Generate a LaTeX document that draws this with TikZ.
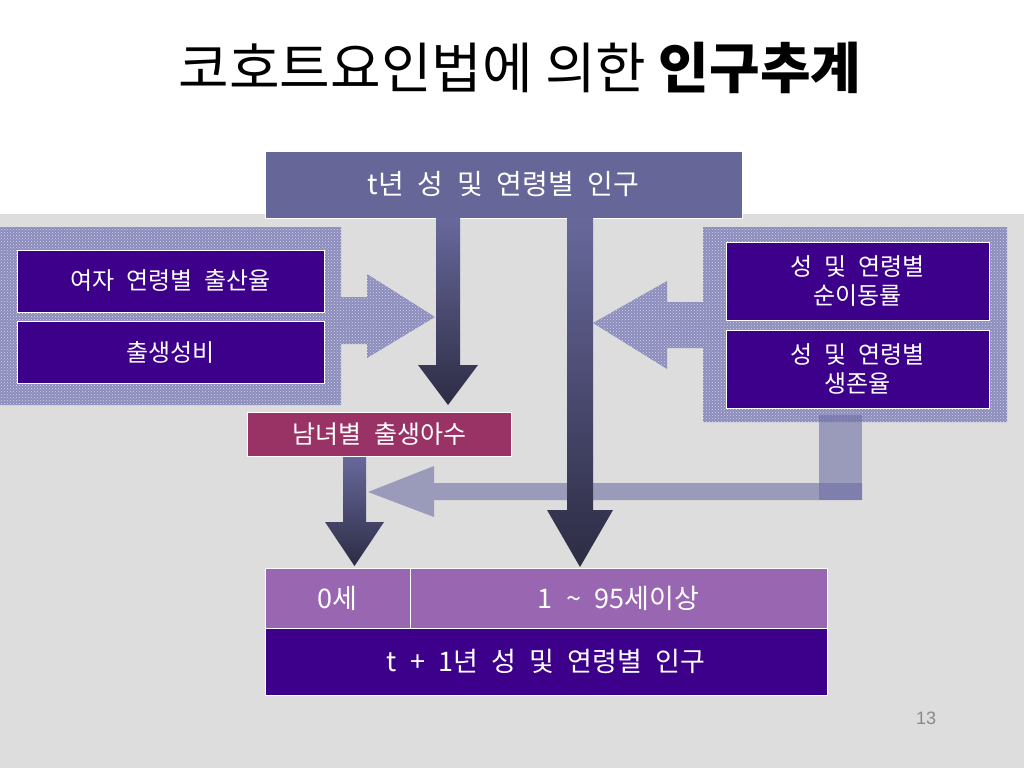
\documentclass[tikz,border=0pt]{standalone}
\usepackage{fontspec}
\setmainfont{Noto Sans CJK KR}
\newfontfamily\boxfont{Noto Sans CJK KR}[WordSpace=2.2]
\newfontfamily\numfont{Liberation Sans}
\usetikzlibrary{patterns}
\definecolor{bggray}{RGB}{221,221,221}
\definecolor{topblue}{RGB}{102,102,153}
\definecolor{indigo}{RGB}{61,0,138}
\definecolor{rosebox}{RGB}{153,51,102}
\definecolor{lilac}{RGB}{153,102,178}
\definecolor{arrtop}{RGB}{104,104,156}
\definecolor{arrbot}{RGB}{44,44,68}
\definecolor{lightarr}{RGB}{110,110,165}
\definecolor{patbase}{RGB}{140,140,188}
\definecolor{patdot}{RGB}{212,212,234}
\definecolor{pagegray}{RGB}{137,137,137}
\tikzset{
  boxstyle/.style={draw=white, line width=1pt, text=white, inner sep=0pt, align=center,
    font=\boxfont\fontsize{24}{29}\selectfont},
  bigtext/.style={font=\boxfont\fontsize{27}{32}\selectfont},
  darkarrow/.style={top color=arrtop, bottom color=arrbot},
  lightblock/.style={fill=lightarr, opacity=0.6},
}
\begin{document}
\begin{tikzpicture}[x=1pt,y=-1pt]
\useasboundingbox (0,0) rectangle (1024,768);
\fill[white] (0,0) rectangle (1024,768);
\fill[bggray] (0,214) rectangle (1024,768);

% title
\node (title) at (520,68) {\fontsize{55}{64}\selectfont 코호트요인법에 의한 \textbf{인구추계}};

% patterned panels with block arrows
\fill[patbase] (0,227) -- (341,227) -- (341,297) -- (367,297) -- (367,274) -- (435,317)
  -- (367,358) -- (367,344) -- (341,344) -- (341,405) -- (0,405) -- cycle;
\fill[pattern=crosshatch dots, pattern color=patdot] (0,227) -- (341,227) -- (341,297) -- (367,297) -- (367,274) -- (435,317)
  -- (367,358) -- (367,344) -- (341,344) -- (341,405) -- (0,405) -- cycle;
\fill[patbase] (1007,227) -- (703,227) -- (703,302) -- (667,302) -- (667,281) -- (593,323)
  -- (667,369) -- (667,348) -- (703,348) -- (703,422) -- (1007,422) -- cycle;
\fill[pattern=crosshatch dots, pattern color=patdot] (1007,227) -- (703,227) -- (703,302) -- (667,302) -- (667,281) -- (593,323)
  -- (667,369) -- (667,348) -- (703,348) -- (703,422) -- (1007,422) -- cycle;

% top box
\node (top) [boxstyle, bigtext, fill=topblue, minimum width=477pt, minimum height=67pt] at (503.5,184.5)
  {\fontsize{28}{32}\selectfont t년 성 및 연령별 인구};

% left boxes
\node (fert) [boxstyle, fill=indigo, minimum width=307pt, minimum height=62pt] at (170.5,281) {여자 연령별 출산율};
\node (ratio) [boxstyle, fill=indigo, minimum width=307pt, minimum height=62pt] at (170.5,352) {출생성비};

% right boxes
\node (migr) [boxstyle, fill=indigo, minimum width=263pt, minimum height=78pt] at (857.5,281) {성 및 연령별\\순이동률};
\node (surv) [boxstyle, fill=indigo, minimum width=263pt, minimum height=78pt] at (857.5,369) {성 및 연령별\\생존율};

% light L-shaped arrow (survival to age 0)
\fill[lightblock] (819,415) rectangle (862,500);
\fill[lightblock] (862,483) -- (434,483) -- (434,466) -- (368,492) -- (434,517) -- (434,500) -- (862,500) -- cycle;

% dark down arrows
\shade[darkarrow] (436,218) -- (460,218) -- (460,365) -- (478,365) -- (448,405) -- (418,365) -- (436,365) -- cycle;
\shade[darkarrow] (567,218) -- (593,218) -- (593,510) -- (613,510) -- (580,567) -- (547,510) -- (567,510) -- cycle;
\shade[darkarrow] (343,457) -- (366,457) -- (366,522) -- (384,522) -- (354.5,566) -- (325,522) -- (343,522) -- cycle;

% births box
\node (births) [boxstyle, fill=rosebox, minimum width=264pt, minimum height=44pt] at (379.5,434.5)
  {\fontsize{25}{30}\selectfont 남녀별 출생아수};

% bottom boxes
\node (age0) [boxstyle, bigtext, fill=lilac, minimum width=145pt, minimum height=60pt] at (337.5,598) {0세};
\node (age1) [boxstyle, bigtext, fill=lilac, minimum width=417pt, minimum height=60pt] at (618.5,598) {1 \textasciitilde{} 95세이상};
\node (next) [boxstyle, bigtext, fill=indigo, minimum width=562pt, minimum height=67pt] at (546,661.5) {t + 1년 성 및 연령별 인구};

% page number
\node (page) [text=pagegray, font=\numfont\fontsize{18}{20}\selectfont] at (926,718) {13};
\end{tikzpicture}
\end{document}
